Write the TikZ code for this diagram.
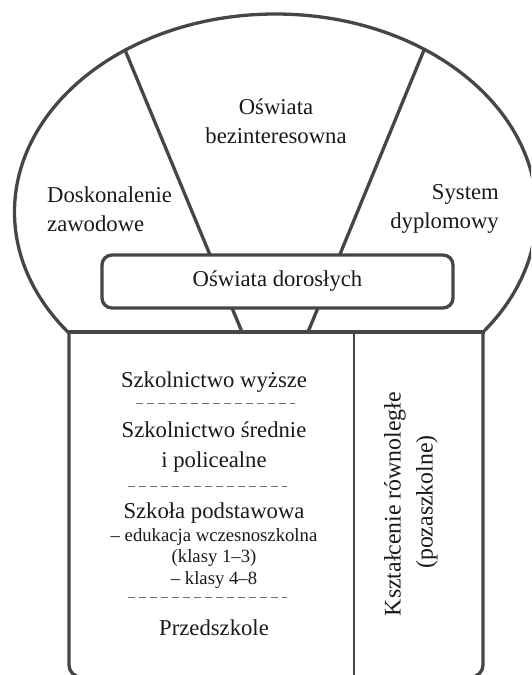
\documentclass[tikz,border=0pt]{standalone}
\usepackage{fontspec}
\setmainfont{Liberation Serif}
\definecolor{linegray}{HTML}{464646}
\definecolor{dashgray}{HTML}{707070}
\definecolor{textc}{HTML}{1A1A1A}
\tikzset{
  outline/.style={draw=linegray, line width=3.3pt},
  sep/.style={draw=dashgray, line width=1pt, dash pattern=on 7pt off 4pt},
  big/.style={text=textc, inner sep=0pt, font=\fontsize{22.7}{29.5}\selectfont, align=center},
  small/.style={text=textc, inner sep=0pt, font=\fontsize{18.7}{21.5}\selectfont, align=center},
  vert/.style={text=textc, inner sep=0pt, font=\fontsize{23.8}{29}\selectfont, rotate=90},
  adult/.style={draw=linegray, line width=3.3pt, fill=white, rounded corners=10pt,
    minimum width=351pt, minimum height=53pt, inner sep=0pt, text=textc,
    font=\fontsize{22.7}{29.5}\selectfont}
}
\begin{document}
\begin{tikzpicture}[x=1pt,y=-1pt]
\useasboundingbox (0,0) rectangle (531,675);
\clip (0,0) rectangle (531,675);
\fill[white] (0,0) rectangle (531,675);
% ellipse (upper part)
\begin{scope}
  \clip (0,0) rectangle (531,332);
  \draw[outline] (275.5,212) ellipse [x radius=261pt, y radius=198pt];
\end{scope}
% slanted lines
\coordinate (l1) at (125,50);
\coordinate (l2) at (242,332);
\coordinate (r1) at (424,50);
\coordinate (r2) at (308,332);
\draw[outline] (l1) -- (l2);
\draw[outline] (r1) -- (r2);
% main box
\coordinate (bl) at (69,332);
\coordinate (br) at (483,332);
\draw[outline, rounded corners=12pt] (bl) -- (69,677) -- (483,677) -- (br);
\draw[outline, line cap=rect] (bl) -- (br);
\coordinate (dtop) at (354,332);
\coordinate (dbot) at (354,680);
\draw[draw=linegray, line width=2.7pt] (dtop) -- (dbot);
% adult education box
\node[adult] (dor) at (277.5,281.5) {Oświata dorosłych};
% upper labels
\node[big] (bez) at (276,121) {Oświata\\bezinteresowna};
\node[big, anchor=west, align=left] (dosk) at (47,209) {Doskonalenie\\zawodowe};
\node[big, anchor=east, align=right] (sys) at (499,209) {System\\dyplomowy};
% lower left column
\node[big] (wyz) at (214,382) {Szkolnictwo wyższe};
\draw[sep] (136,403) -- (295,403);
\node[big] (sred) at (214,447) {Szkolnictwo średnie\\i policealne};
\draw[sep] (128,486) -- (287,486);
\node[big] (pod) at (214,513) {Szkoła podstawowa};
\node[small] (ed1) at (214,537) {– edukacja wczesnoszkolna};
\node[small] (ed2) at (214,558) {(klasy 1–3)};
\node[small] (ed3) at (214,580) {– klasy 4–8};
\draw[sep] (128,597) -- (287,597);
\node[big] (prz) at (214,628) {Przedszkole};
% right column
\node[vert] (kr) at (395,504) {Kształcenie równoległe};
\node[vert] (poz) at (427,502) {(pozaszkolne)};
\end{tikzpicture}
\end{document}
